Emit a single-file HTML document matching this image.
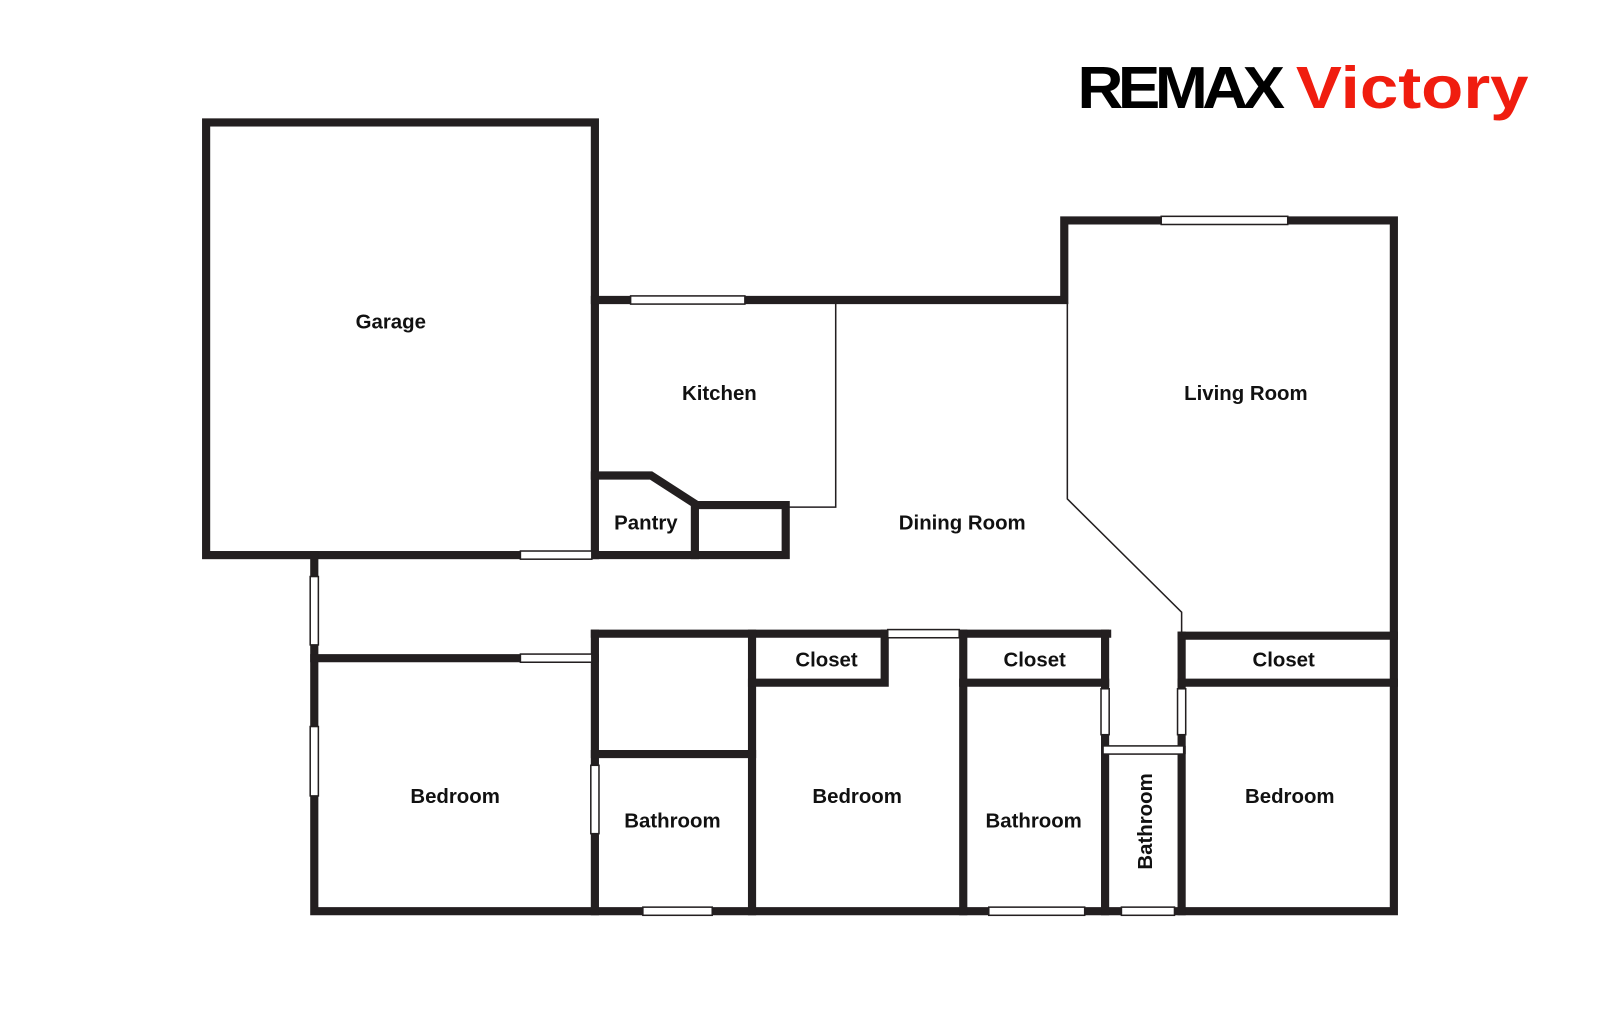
<!DOCTYPE html>
<html><head><style>
html,body{margin:0;padding:0;background:#fff;}
svg{display:block;}
text{font-family:"Liberation Sans",Arial,sans-serif;font-weight:bold;fill:#111;}
</style></head><body>
<svg width="1600" height="1035" viewBox="0 0 1600 1035" xmlns="http://www.w3.org/2000/svg">
<rect width="1600" height="1035" fill="#fff"/>
<g transform="scale(1.0204)">
<g stroke="#231f20" stroke-width="8" fill="none" stroke-linecap="square" stroke-linejoin="miter">
<rect x="202" y="120" width="381" height="424"/>
<polyline points="583,294 1043,294 1043,216 1366,216 1366,893 308,893 308,544"/>
<polyline points="583,466 638,466 683,495 770,495 770,544 583,544"/>
<line x1="681" y1="495" x2="681" y2="544"/>
<line x1="308" y1="645" x2="583" y2="645"/>
<line x1="583" y1="621" x2="1085" y2="621"/>
<line x1="583" y1="621" x2="583" y2="893"/>
<line x1="583" y1="739" x2="737" y2="739"/>
<line x1="737" y1="621" x2="737" y2="893"/>
<polyline points="737,669 867,669 867,621"/>
<line x1="944" y1="621" x2="944" y2="893"/>
<line x1="944" y1="669" x2="1083" y2="669"/>
<line x1="1083" y1="621" x2="1083" y2="893"/>
<line x1="1158" y1="623" x2="1158" y2="893"/>
<line x1="1158" y1="623" x2="1366" y2="623"/>
<line x1="1158" y1="669" x2="1366" y2="669"/>
<line x1="1083" y1="735" x2="1158" y2="735"/>
</g>
<g stroke="#231f20" stroke-width="1.5" fill="none">
<polyline points="819,294 819,497 770,497"/>
<polyline points="1046,296 1046,489 1158,600 1158,622"/>
</g>
<g fill="#fff" stroke="#231f20" stroke-width="1.5">
<rect x="618" y="290" width="112" height="8"/>
<rect x="1138" y="212" width="124" height="8"/>
<rect x="510" y="540" width="70" height="8"/>
<rect x="304" y="565" width="8" height="67"/>
<rect x="304" y="712" width="8" height="68"/>
<rect x="510" y="641" width="70" height="8"/>
<rect x="870" y="617" width="70" height="8"/>
<rect x="579" y="750" width="8" height="67"/>
<rect x="1079" y="675" width="8" height="45"/>
<rect x="1154" y="675" width="8" height="45"/>
<rect x="1081" y="731" width="79" height="8"/>
<rect x="630" y="889" width="68" height="8"/>
<rect x="969" y="889" width="94" height="8"/>
<rect x="1099" y="889" width="52" height="8"/>
</g>
<g font-size="20" text-anchor="middle">
<text x="383" y="322">Garage</text>
<text x="705" y="392">Kitchen</text>
<text x="633" y="519">Pantry</text>
<text x="943" y="519">Dining Room</text>
<text x="1221" y="392">Living Room</text>
<text x="810" y="653">Closet</text>
<text x="1014" y="653">Closet</text>
<text x="1258" y="653">Closet</text>
<text x="446" y="787">Bedroom</text>
<text x="659" y="811">Bathroom</text>
<text x="840" y="787">Bedroom</text>
<text x="1013" y="811">Bathroom</text>
<text x="1264" y="787">Bedroom</text>
<text transform="translate(1129,805) rotate(-90)">Bathroom</text>
</g>
<text x="1056" y="106" font-size="58" style="font-weight:900;letter-spacing:-5px;fill:#000" textLength="198" lengthAdjust="spacingAndGlyphs">REMAX</text>
<text x="1270" y="106" font-size="58" style="fill:#f01d0f" textLength="228" lengthAdjust="spacingAndGlyphs">Victory</text>
</g>
</svg>
</body></html>
